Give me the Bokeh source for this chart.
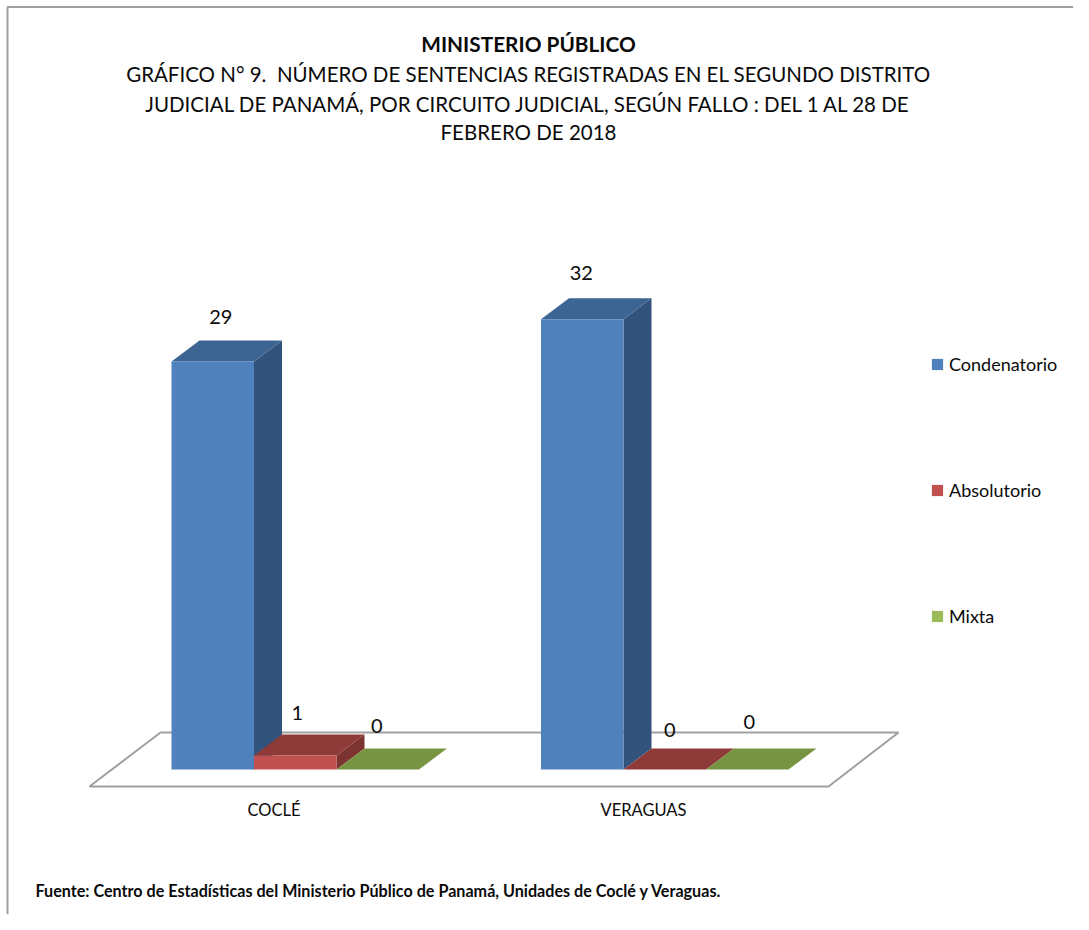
from bokeh.embed import file_html
from bokeh.resources import INLINE
from bokeh.plotting import figure
from bokeh.models import Range1d, Label, Legend, LegendItem, FixedTicker, ColumnDataSource

# ---- data ----
categories = ["COCLÉ", "VERAGUAS"]
series_names = ["Condenatorio", "Absolutorio", "Mixta"]
condenatorio = [29, 32]
absolutorio = [1, 0]
mixta = [0, 0]

title_bold = "MINISTERIO PÚBLICO"
title_lines = [
    "GRÁFICO N° 9.\u00a0 NÚMERO DE SENTENCIAS REGISTRADAS EN EL SEGUNDO DISTRITO",
    "JUDICIAL DE PANAMÁ, POR CIRCUITO JUDICIAL, SEGÚN FALLO : DEL 1 AL 28 DE",
    "FEBRERO DE 2018",
]
footnote = "Fuente: Centro de Estadísticas del Ministerio Público de Panamá, Unidades de Coclé y Veraguas."

# ---- styles (front, top, side) ----
front_cols = ["#4F81BD", "#C0504D", "#9BBB59"]
top_cols = ["#3D6593", "#8E3A38", "#779442"]
side_cols = ["#31537C", "#7D3331", "#66803A"]
GRID = "#A0A0A0"
FONT = "Lato"
INK = "#0A0A0A"

# ---- layout: picture pixels ----
W, H = 1073, 914
BASE_PX, UNIT_PX = 769.0, 14.07
CAT0_PX, BAND_PX = 273.5, 369.5


def vx(px):
    return (px - CAT0_PX) / BAND_PX


def vy(py):
    return (BASE_PX - py) / UNIT_PX


DX, DY = 28 / BAND_PX, 21 / UNIT_PX
BAR_W = 82.5 / BAND_PX
GROUP_LEFT = -102.5 / BAND_PX

p = figure(
    width=W, height=H, output_backend="svg", toolbar_location=None,
    x_range=Range1d(vx(0), vx(W)),
    y_range=Range1d(vy(H), vy(0)),
    min_border_left=0, min_border_right=0, min_border_top=0, min_border_bottom=0,
    outline_line_color=None, background_fill_color="white", border_fill_color="white",
)
p.grid.visible = False
p.yaxis.visible = False

ax = p.xaxis[0]
ax.fixed_location = vy(786)
ax.ticker = FixedTicker(ticks=list(range(len(categories))))
ax.major_label_overrides = {i: c for i, c in enumerate(categories)}
ax.axis_line_color = None
ax.major_tick_line_color = None
ax.minor_tick_line_color = None
ax.major_tick_in = 0
ax.major_tick_out = 0
ax.major_label_standoff = 13
ax.major_label_text_font = FONT
ax.major_label_text_font_size = "16.5px"
ax.major_label_text_color = INK

# ---- outer frame: top and left edges only ----
p.line([vx(7), vx(7), vx(W)], [vy(H), vy(6.5), vy(6.5)], line_color=GRID, line_width=2)

# ---- floor ----
p.patch([vx(89), vx(160), vx(898), vx(828)], [vy(786), vy(732), vy(732), vy(786)],
        fill_color="white", line_color=GRID, line_width=2)

# ---- bars ----
series = [condenatorio, absolutorio, mixta]
front_renderers = []
for j, vals in enumerate(series):
    lefts = [i + GROUP_LEFT + j * BAR_W for i in range(len(vals))]
    rights = [l + BAR_W for l in lefts]
    p.patches(
        xs=[[l, l + DX, r + DX, r] for l, r in zip(lefts, rights)],
        ys=[[v, v + DY, v + DY, v] for v in vals],
        fill_color=top_cols[j], line_color=None,
    )
    p.patches(
        xs=[[r, r + DX, r + DX, r] for r in rights],
        ys=[[0, DY, v + DY, v] for v in vals],
        fill_color=side_cols[j], line_color=None,
    )
    r = p.quad(left=lefts, right=rights, bottom=[0] * len(vals), top=vals,
               fill_color=front_cols[j], line_color=None)
    front_renderers.append(r)

# ---- value labels ----
label_nudge_x = [[8, -1], [2, 5], [-1, 2]]     # px from the front-face centre
label_rise = [[44, 46], [42, 40], [44, 48]]    # px above the bar top
for j, vals in enumerate(series):
    src = ColumnDataSource(dict(
        x=[i + GROUP_LEFT + (j + 0.5) * BAR_W for i in range(len(vals))],
        y=vals,
        t=[str(v) for v in vals],
        xo=label_nudge_x[j],
        yo=[-d for d in label_rise[j]],
    ))
    p.text(x="x", y="y", text="t", source=src, x_offset="xo", y_offset="yo",
           text_align="center", text_baseline="middle", text_color=INK,
           text_font={"value": FONT}, text_font_size="20px")

# ---- legend ----
legend = Legend(
    items=[LegendItem(label=n, renderers=[r]) for n, r in zip(series_names, front_renderers)],
    location=(930, 287),
    orientation="vertical", spacing=104, padding=0, margin=0,
    glyph_width=14, glyph_height=14, label_standoff=5,
    label_text_font=FONT, label_text_font_size="18px", label_text_color=INK,
    border_line_color=None, background_fill_alpha=0,
)
p.add_layout(legend)


def page_label(text, px, py, size, bold=False, align="center"):
    p.add_layout(Label(
        x=px, y=H - py, x_units="screen", y_units="screen", text=text,
        text_align=align, text_baseline="middle", text_font=FONT, text_font_size=size,
        text_font_style="bold" if bold else "normal", text_color=INK,
    ))


page_label(title_bold, 528, 43, "20.8px", bold=True)
for line, py in zip(title_lines, [73, 103, 131.5]):
    page_label(line, 528, py, "20.5px")
page_label(footnote, 35, 890, "16.15px", bold=True, align="left")

open("out.html", "w").write(file_html(p, INLINE))
